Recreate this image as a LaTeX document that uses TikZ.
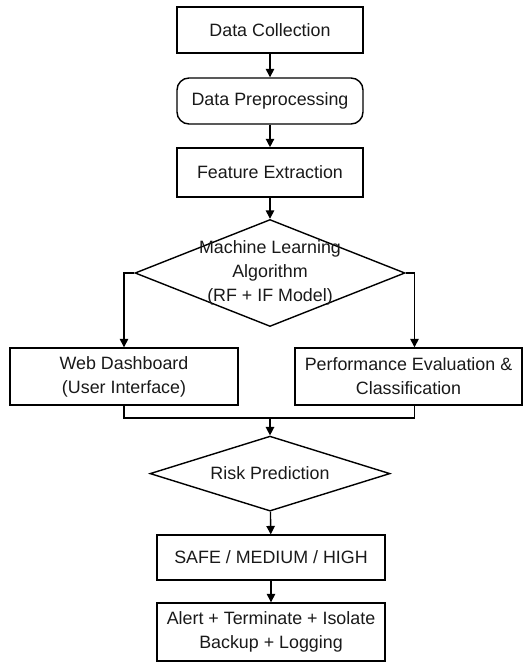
\documentclass[tikz,border=0pt]{standalone}
\usepackage{fontspec}
\setmainfont{Liberation Sans}
\usepackage{tikz}
\usetikzlibrary{arrows.meta,shapes.geometric}

\begin{document}
\begin{tikzpicture}[
	every node/.style={font=\fontsize{12.7}{17}\selectfont, align=center, text=black!90},
	process/.style={draw, line width=1pt, inner sep=0pt},
	decision/.style={draw, diamond, line width=1pt, inner sep=0pt},
	flow/.style={line width=1pt, -{Triangle[length=6pt,width=6pt]}},
	joint/.style={line width=1pt}
	]
	
	\useasboundingbox (0,0) rectangle (13.225,-16.575);
	
	% Top chain
	\node[process, minimum width=4.65cm, minimum height=1.15cm] (collect) at (6.75,-0.75) {Data Collection};
	\node[process, rounded corners=0.3cm, minimum width=4.65cm, minimum height=1.15cm] (prep) at (6.75,-2.525) {Data Preprocessing};
	\node[process, minimum width=4.65cm, minimum height=1.225cm] (feature) at (6.75,-4.31) {Feature Extraction};
	
	% Model decision
	\node[decision, minimum width=6.75cm, minimum height=2.675cm] (ml) at (6.75,-6.825) {};
	\node (mltext) at (ml) {Machine Learning\\Algorithm\\(RF + IF Model)};
	
	% Two branches
	\node[process, minimum width=5.7cm, minimum height=1.425cm] (dash) at (3.1,-9.4125) {Web Dashboard\\(User Interface)};
	\node[process, minimum width=5.675cm, minimum height=1.425cm] (perf) at (10.2125,-9.4125) {Performance Evaluation \&\\Classification};
	
	% Risk and response
	\node[decision, minimum width=6.0cm, minimum height=1.875cm] (risk) at (6.75,-11.84) {};
	\node (risktext) at (risk) {Risk Prediction};
	\node[process, minimum width=5.7cm, minimum height=1.125cm] (level) at (6.775,-13.94) {SAFE / MEDIUM / HIGH};
	\node[process, minimum width=5.7cm, minimum height=1.45cm] (action) at (6.775,-15.8) {Alert + Terminate + Isolate\\Backup + Logging};
	
	\coordinate (merge) at (6.75,-10.45);
	\coordinate (perfin) at ([xshift=0.15cm]perf.north);
	\coordinate (perfout) at ([xshift=0.15cm]perf.south);
	
	% Connectors
	\draw[flow] (collect) -- (prep);
	\draw[flow] (prep) -- (feature);
	\draw[flow] (feature) -- (ml);
	\draw[flow] (ml.west) -| (dash);
	\draw[flow] (ml.east) -| (perfin);
	\draw[joint] (dash.south) |- (merge) -| (perfout);
	\draw[flow] (merge) -- (risk);
	\draw[flow] (risk) -- (level);
	\draw[flow] (level) -- (action);
	
\end{tikzpicture}
\end{document}
